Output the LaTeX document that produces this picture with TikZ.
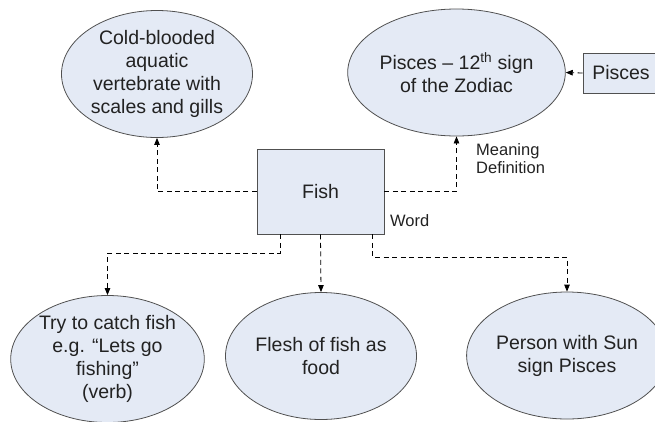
\documentclass[tikz,border=0pt]{standalone}
\usepackage{fontspec}
\setmainfont{Liberation Sans}
\usetikzlibrary{shapes.geometric,arrows.meta}
\definecolor{nodefill}{HTML}{E4EAF5}
\definecolor{nodeline}{HTML}{505050}
\definecolor{inktext}{HTML}{222222}
\begin{document}
\begin{tikzpicture}[x=1pt,y=-1pt,
  ell/.style={ellipse,draw=nodeline,fill=nodefill,line width=0.8pt,inner sep=0pt,
    minimum width=191pt,minimum height=127pt,align=center,text=inktext,
    font=\fontsize{19.5}{23}\selectfont},
  sqbox/.style={rectangle,draw=nodeline,fill=nodefill,line width=0.8pt,inner sep=0pt,
    text=inktext,font=\fontsize{19.5}{23}\selectfont},
  link/.style={draw=black,line width=0.8pt,dash pattern=on 5pt off 3.5pt,
    -{Triangle[length=7pt,width=5.5pt]}},
  lbl/.style={inner sep=0pt,align=left,text=inktext,font=\fontsize{16.5}{18}\selectfont}]
\useasboundingbox (0,0) rectangle (655,421);
\clip (0,0) rectangle (655,421);

% top row
\node[ell] (cold) at (157,74) {Cold-blooded\\aquatic\\vertebrate with\\scales and gills};
\node[ell] (zod) at (456.5,72.5) {Pisces -- 12\textsuperscript{th} sign\\of the Zodiac};
\node[sqbox,minimum width=76pt,minimum height=40pt] (pis) at (621,73) {Pisces};

% central word
\node[sqbox,minimum width=127pt,minimum height=85pt] (fish) at (320.5,191.5) {Fish};

% bottom row
\node[ell] (catch) at (107.5,359) {Try to catch fish\\e.g. “Lets go\\fishing”\\(verb)};
\node[ell] (food) at (321,356) {Flesh of fish as\\food};
\node[ell] (sun) at (567,355.5) {Person with Sun\\sign Pisces};

% labels
\node[lbl,anchor=north west] (mean) at (476,143) {Meaning\\Definition};
\node[lbl,anchor=base west] (word) at (390,226) {Word};

% connectors
\draw[link] (fish.west) -| (cold.south);
\draw[link] (fish.east) -| (zod.south);
\draw[link] (pis.west) -- (zod.east);
\draw[link] ([xshift=-40.5pt]fish.south) -- ++(0,19) -| (catch.north);
\draw[link] (fish.south) -- (food.north);
\draw[link] ([xshift=52pt]fish.south) -- ++(0,23) -| (sun.north);
\end{tikzpicture}
\end{document}
